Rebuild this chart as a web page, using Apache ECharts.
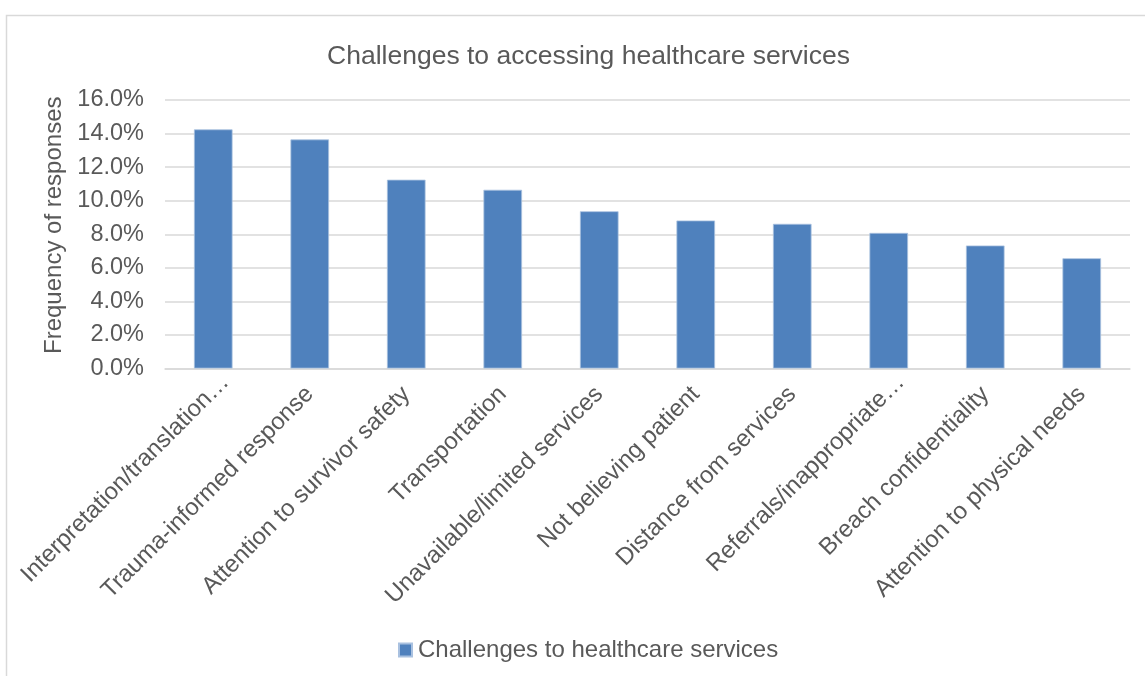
<!DOCTYPE html>
<html>
<head>
<meta charset="utf-8">
<title>Challenges to accessing healthcare services</title>
<script src="https://cdn.jsdelivr.net/npm/echarts@6/dist/echarts.min.js"></script>
<style>
  html, body { margin: 0; padding: 0; background: #ffffff; }
  #chart { width: 1145px; height: 676px; }
</style>
</head>
<body>
<div id="chart"></div>
<script>
// Categories along the x axis (as printed, including truncated names)
const categories = [
  'Interpretation/translation\u2026',
  'Trauma-informed response',
  'Attention to survivor safety',
  'Transportation',
  'Unavailable/limited services',
  'Not believing patient',
  'Distance from services',
  'Referrals/inappropriate\u2026',
  'Breach confidentiality',
  'Attention to physical needs'
];

// Share of responses per challenge (fraction of all responses)
const shares = [0.1425, 0.1365, 0.1125, 0.1065, 0.0937, 0.0882, 0.0862, 0.0808, 0.0733, 0.0657];

// Y axis range and step
const yMin = 0;
const yMax = 0.16;
const yStep = 0.02;

const seriesName = 'Challenges to healthcare services';
const chartTitle = 'Challenges to accessing healthcare services';
const yAxisTitle = 'Frequency of responses';

const textColor = '#595959';
const gridColor = '#d9d9d9';
const barColor = '#4f81bd';
const fontFamily = '"Liberation Sans", Arial, sans-serif';

// Truncated names hang a little further past their tick
const axisData = categories.map(name =>
  name.endsWith('\u2026')
    ? { value: name, textStyle: { padding: [0, -17, 0, 0] } }
    : name
);

const chart = echarts.init(document.getElementById('chart'), null, { renderer: 'canvas' });

chart.setOption({
  backgroundColor: '#ffffff',
  animation: false,
  textStyle: { fontFamily: fontFamily, color: textColor },
  graphic: [{
    // chart-area frame (top and left edges visible)
    type: 'rect',
    shape: { x: 6.5, y: 15.5, width: 1300, height: 800 },
    style: { fill: 'none', stroke: '#d9d9d9', lineWidth: 1.5 },
    silent: true,
    z: -10
  }],
  title: {
    text: chartTitle,
    left: 583.5,
    top: 38,
    textAlign: 'center',
    textStyle: { fontFamily: fontFamily, color: textColor, fontSize: 26.5, fontWeight: 'normal' }
  },
  legend: {
    data: [seriesName],
    left: 398,
    top: 638,
    padding: 0,
    icon: 'rect',
    itemWidth: 13,
    itemHeight: 13,
    itemGap: 6,
    textStyle: { fontFamily: fontFamily, color: textColor, fontSize: 24, padding: [0, 0, 0, 1] }
  },
  grid: {
    left: 165,
    right: 15,
    top: 100,
    bottom: 676 - 368.5,
    containLabel: false
  },
  xAxis: {
    type: 'category',
    data: axisData,
    axisLine: { show: true, lineStyle: { color: gridColor, width: 1.5 } },
    axisTick: { show: false },
    axisLabel: {
      interval: 0,
      rotate: 45,
      margin: 22,
      color: textColor,
      fontFamily: fontFamily,
      fontSize: 24
    }
  },
  yAxis: {
    type: 'value',
    min: yMin,
    max: yMax,
    interval: yStep,
    name: yAxisTitle,
    nameLocation: 'middle',
    nameGap: 94,
    nameTextStyle: { fontFamily: fontFamily, color: textColor, fontSize: 24, padding: [0, 0, 0, 18] },
    axisLine: { show: false },
    axisTick: { show: false },
    axisLabel: {
      margin: 21,
      color: textColor,
      fontFamily: fontFamily,
      fontSize: 23.5,
      formatter: v => (v * 100).toFixed(1) + '%'
    },
    splitLine: { show: true, lineStyle: { color: gridColor, width: 1.5 } }
  },
  series: [{
    name: seriesName,
    type: 'bar',
    data: shares,
    barCategoryGap: '60%',
    itemStyle: { color: barColor, borderColor: '#a9c1e0', borderWidth: 0.8 }
  }]
});
</script>
</body>
</html>
